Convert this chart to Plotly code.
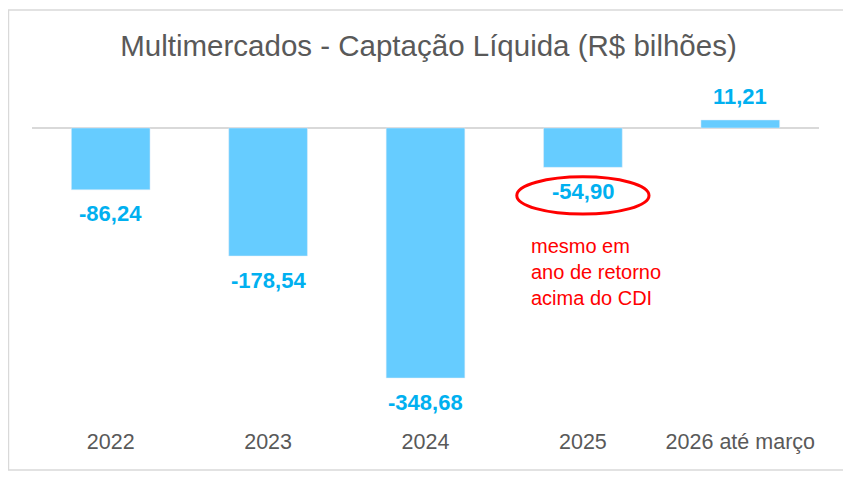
import plotly.graph_objects as go

categories = ["2022", "2023", "2024", "2025", "2026 até março"]
values = [-86.24, -178.54, -348.68, -54.90, 11.21]
labels = ["-86,24", "-178,54", "-348,68", "-54,90", "11,21"]

BAR = "#66CCFF"
LBL = "#00B0F0"
GRAY = "#595959"
FONT = "Liberation Sans, Arial, sans-serif"

W, H = 843, 469  # page adds an 8px body margin

fig = go.Figure()
fig.add_trace(go.Bar(x=list(range(len(categories))), y=values, marker_color=BAR,
                     width=0.5, hoverinfo="skip"))

for i, (v, t) in enumerate(zip(values, labels)):
    fig.add_annotation(x=i, y=v, text="<b>%s</b>" % t, showarrow=False,
                       yshift=(-24 if v < 0 else 23), xref="x", yref="y",
                       font=dict(size=22, color=LBL, family=FONT))

# highlight ellipse around 2025 label
fig.add_shape(type="circle", xref="x", yref="y", x0=2.58, x1=3.42, y0=-68, y1=-120,
              line=dict(color="#FF0000", width=3))
fig.add_annotation(x=2.66, y=-201, xref="x", yref="y", xanchor="left", align="left",
                   showarrow=False, text="mesmo em<br>ano de retorno<br>acima do CDI",
                   font=dict(size=20, color="#FF0000", family=FONT))

# chart border
fig.add_shape(type="rect", xref="paper", yref="paper", x0=-0.0299, x1=1.033,
              y0=-0.147, y1=1.206, line=dict(color="#D9D9D9", width=1.5), layer="below")

fig.update_layout(
    width=W, height=H,
    margin=dict(l=24, r=32, t=72, b=57),
    paper_bgcolor="white", plot_bgcolor="white",
    showlegend=False,
    title=dict(text="Multimercados - Captação Líquida (R$ bilhões)", x=(24 + 787 / 2 + 3) / W,
               xanchor="center", y=1 - 38 / H, yanchor="middle", yref="container",
               font=dict(size=29.5, color=GRAY, family=FONT)),
    xaxis=dict(tickmode="array", tickvals=list(range(len(categories))), ticktext=categories,
               range=[-0.5, 4.5], showgrid=False, showline=False, zeroline=False,
               tickfont=dict(size=21.5, color=GRAY, family=FONT), ticks="",
               ticklabelstandoff=6),
    yaxis=dict(range=[-407.2, 66.9], showgrid=False, showticklabels=False,
               zeroline=True, zerolinecolor="#D9D9D9", zerolinewidth=1.5, showline=False),
)

fig.write_html("out.html")
